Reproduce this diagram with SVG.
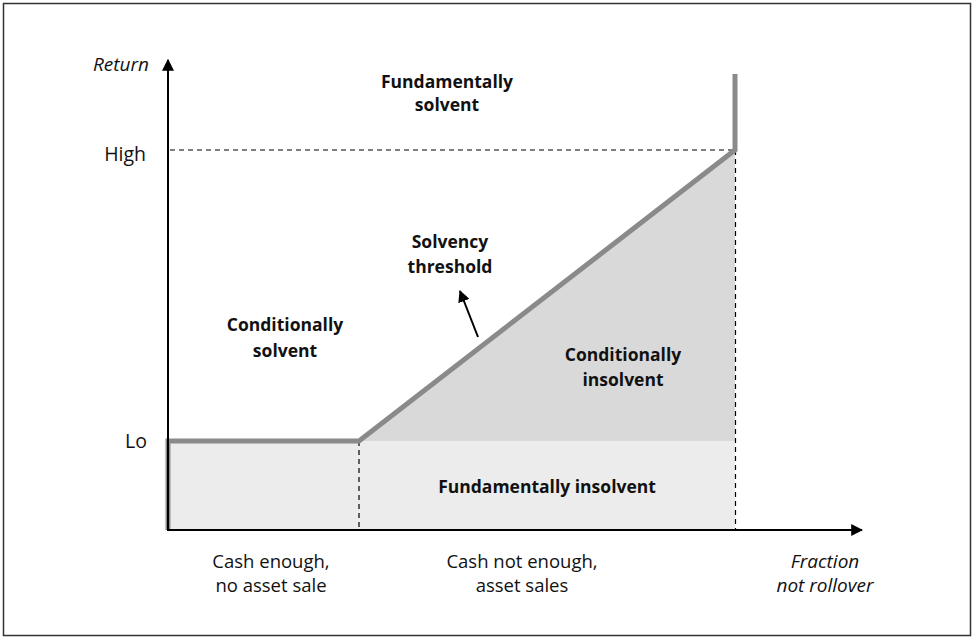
<svg xmlns="http://www.w3.org/2000/svg" width="974" height="639" viewBox="0 0 974 639">
<defs>
<style>
text{font-family:"Open Sans","Noto Sans",sans-serif;fill:#111;}
.b{font-weight:bold;font-size:17.5px;text-anchor:middle;}
.r{font-size:18.5px;text-anchor:middle;}
.i{font-style:italic;font-size:19px;}
.ax{stroke:#000;stroke-width:2;fill:none;}
.dash{stroke:#000;stroke-width:1.2;stroke-dasharray:5,4;fill:none;}
.th{stroke:#8a8a8a;stroke-width:5;fill:none;stroke-linejoin:miter;}
</style>
<marker id="ah" viewBox="0 0 10 10" refX="9" refY="5" markerWidth="6" markerHeight="6" orient="auto" markerUnits="strokeWidth">
<path d="M0,0 L10,5 L0,10 z" fill="#000"/>
</marker>
</defs>
<rect x="3.5" y="3.5" width="967" height="632" fill="#fff" stroke="#333" stroke-width="1.5"/>
<g id="regions">
<rect id="fund-insolvent-area" x="168" y="441" width="567" height="89" fill="#ececec"/>
<polygon id="cond-insolvent-area" points="359,441 735,150 735,441" fill="#d9d9d9"/>
</g>
<g id="connectors">
<line class="dash" x1="170" y1="150" x2="735" y2="150"/>
<line class="dash" x1="359" y1="441" x2="359" y2="530"/>
<line class="dash" x1="735.5" y1="150" x2="735.5" y2="530"/>
<polyline id="threshold" class="th" points="168,530 168,441 359,441 735,150 735,74"/>
<line class="ax" x1="168" y1="530" x2="168" y2="60" marker-end="url(#ah)"/>
<line class="ax" x1="167" y1="530" x2="862" y2="530" marker-end="url(#ah)"/>
<line stroke="#000" stroke-width="2" x1="478" y1="337" x2="460" y2="291" marker-end="url(#ah)"/>
</g>
<g id="axis-labels">
<text class="i" x="149" y="71" text-anchor="end">Return</text>
<text x="146" y="161" style="text-anchor:end;font-size:19.5px">High</text>
<text x="147" y="448" style="text-anchor:end;font-size:19.5px">Lo</text>
<text class="i" x="825" y="568" text-anchor="middle">Fraction</text>
<text class="i" x="825" y="592" text-anchor="middle">not rollover</text>
</g>
<g id="fundamentally-solvent"><text class="b" x="447" y="88">Fundamentally</text><text class="b" x="447" y="111">solvent</text></g>
<g id="solvency-threshold"><text class="b" x="450" y="248">Solvency</text><text class="b" x="450" y="273">threshold</text></g>
<g id="conditionally-solvent"><text class="b" x="285" y="331">Conditionally</text><text class="b" x="285" y="357">solvent</text></g>
<g id="conditionally-insolvent"><text class="b" x="623" y="361">Conditionally</text><text class="b" x="623" y="386">insolvent</text></g>
<g id="fundamentally-insolvent"><text class="b" x="547" y="493">Fundamentally insolvent</text></g>
<g id="cash-enough"><text class="r" x="271" y="568">Cash enough,</text><text class="r" x="271" y="592">no asset sale</text></g>
<g id="cash-not-enough"><text class="r" x="522" y="568">Cash not enough,</text><text class="r" x="522" y="592">asset sales</text></g>
</svg>
